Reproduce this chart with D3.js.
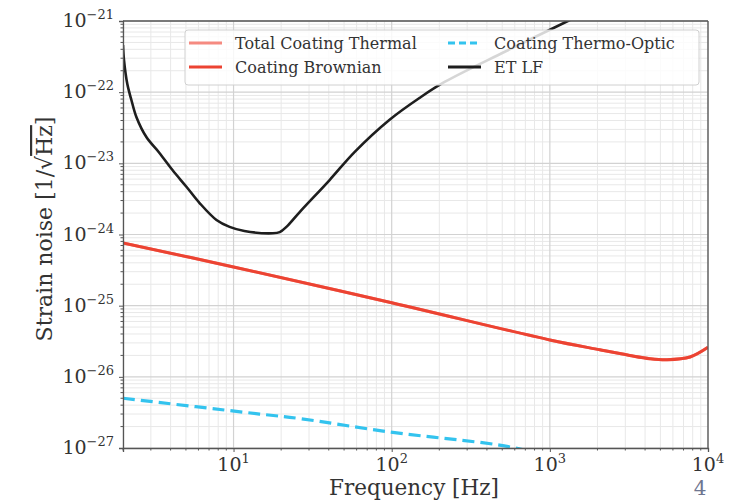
<!DOCTYPE html>
<html>
<head>
  <title>Coating thermal noise</title>
</head>
<style>
  body, html { margin: 0; padding: 0; background: #fff; }
  #svg { display: block; }
  text { font-family: "DejaVu Serif", serif; fill: #333; }
</style>
<body>
  <svg id="svg" width="738" height="501"></svg>
  <script src="https://d3js.org/d3.v7.min.js"></script>
  <script>
    // values (Hz, 1/sqrt(Hz))
    const freqET = [2, 2.03, 2.13, 2.26, 2.43, 2.81, 3.4, 4.11, 5.05, 6.1, 7.8, 9.44, 11.7, 17.7, 19.6, 21.6, 26.2, 40.5, 58.4, 97, 150, 216, 519, 1300, 2070]
    const strainET = [4.6e-22, 2.8e-22, 1.3e-22, 7.76e-23, 4.48e-23, 2.34e-23, 1.4e-23, 8.05e-24, 4.65e-24, 2.77e-24, 1.6e-24, 1.28e-24, 1.12e-24, 1.04e-24, 1.08e-24, 1.28e-24, 2.07e-24, 5.83e-24, 1.45e-23, 4.1e-23, 8.3e-23, 1.39e-22, 3.7e-22, 1.0e-21, 1.66e-21]

    const freqBrown = [2, 10, 100, 1000, 2070, 3200, 4300, 5500, 7700, 10000]
    const strainBrown = [7.6e-25, 3.5e-25, 1.1e-25, 3.3e-26, 2.4e-26, 2.0e-26, 1.8e-26, 1.74e-26, 1.9e-26, 2.6e-26]
    const strainTotal = [7.6e-25, 3.5e-25, 1.1e-25, 3.3e-26, 2.4e-26, 2.0e-26, 1.8e-26, 1.74e-26, 1.9e-26, 2.6e-26]

    const freqTO = [2, 14.6, 26, 97, 480, 700]
    const strainTO = [5.0e-27, 3.0e-27, 2.6e-27, 1.68e-27, 1.1e-27, 9.3e-28]

    const xTicks = [10, 100, 1000, 10000]
    const yTicks = [1e-27, 1e-26, 1e-25, 1e-24, 1e-23, 1e-22, 1e-21]

    const legendNames = ['Total Coating Thermal', 'Coating Brownian', 'Coating Thermo-Optic', 'ET LF']

    const pLeft = 123, pRight = 708, pTop = 21, pBottom = 448

    const svg = d3.select('#svg')

    const xscale = d3.scaleLog().domain([2, 10000]).range([pLeft, pRight])
    const yscale = d3.scaleLog().domain([1e-27, 1e-21]).range([pBottom, pTop])

    // minor tick values
    const xMinor = []
    for (let e = 0; e <= 3; e++) for (let m = 2; m <= 9; m++) {
      const v = m * Math.pow(10, e)
      if (v >= 2 && v < 10000) xMinor.push(v)
    }
    const yMinor = []
    for (let e = -27; e < -21; e++) for (let m = 2; m <= 9; m++) yMinor.push(m * Math.pow(10, e))

    // grid
    const grid = svg.append('g')
    grid.selectAll('.xm').data(xMinor).join('line')
      .attr('x1', d => xscale(d)).attr('x2', d => xscale(d))
      .attr('y1', pTop).attr('y2', pBottom)
      .attr('stroke', '#e8e8e8').attr('stroke-width', 1)
    grid.selectAll('.ym').data(yMinor).join('line')
      .attr('y1', d => yscale(d)).attr('y2', d => yscale(d))
      .attr('x1', pLeft).attr('x2', pRight)
      .attr('stroke', '#e8e8e8').attr('stroke-width', 1)
    grid.selectAll('.xM').data(xTicks).join('line')
      .attr('x1', d => xscale(d)).attr('x2', d => xscale(d))
      .attr('y1', pTop).attr('y2', pBottom)
      .attr('stroke', '#d2d2d2').attr('stroke-width', 1.2)
    grid.selectAll('.yM').data(yTicks).join('line')
      .attr('y1', d => yscale(d)).attr('y2', d => yscale(d))
      .attr('x1', pLeft).attr('x2', pRight)
      .attr('stroke', '#d2d2d2').attr('stroke-width', 1.2)

    // curves
    svg.append('clipPath').attr('id', 'clip')
      .append('rect').attr('x', pLeft).attr('y', pTop)
      .attr('width', pRight - pLeft).attr('height', pBottom - pTop)

    const linegen = d3.line()
      .x(d => xscale(d[0]))
      .y(d => yscale(d[1]))
      .curve(d3.curveCatmullRom.alpha(0.5))

    const plot = svg.append('g').attr('clip-path', 'url(#clip)')
    plot.append('path')
      .attr('d', linegen(d3.zip(freqBrown, strainTotal)))
      .attr('stroke', '#f58a80').attr('stroke-width', 3).attr('fill', 'none')
    plot.append('path')
      .attr('d', linegen(d3.zip(freqBrown, strainBrown)))
      .attr('stroke', '#ec4332').attr('stroke-width', 3).attr('fill', 'none')
    plot.append('path')
      .attr('d', linegen(d3.zip(freqTO, strainTO)))
      .attr('stroke', '#33c3ee').attr('stroke-width', 3.2)
      .attr('stroke-dasharray', '12,6').attr('fill', 'none')
    plot.append('path')
      .attr('d', linegen(d3.zip(freqET, strainET)))
      .attr('stroke', '#1e1e1e').attr('stroke-width', 2.6).attr('fill', 'none')

    // axes
    const xAxis = svg.append('g').attr('transform', `translate(0,${pBottom})`)
      .call(d3.axisBottom(xscale).tickValues(xTicks).tickSize(4).tickFormat(d => ''))
    xAxis.append('g').selectAll('line').data(xMinor).join('line')
      .attr('x1', d => xscale(d)).attr('x2', d => xscale(d))
      .attr('y1', 0).attr('y2', 2.5).attr('stroke', '#555')
    const yAxis = svg.append('g').attr('transform', `translate(${pLeft},0)`)
      .call(d3.axisLeft(yscale).tickValues(yTicks).tickSize(4).tickFormat(d => ''))
    yAxis.append('g').selectAll('line').data(yMinor).join('line')
      .attr('y1', d => yscale(d)).attr('y2', d => yscale(d))
      .attr('x1', 0).attr('x2', -2.5).attr('stroke', '#555')

    svg.selectAll('.domain').attr('stroke', '#555').attr('stroke-width', 1.3)
    svg.selectAll('.tick line').attr('stroke', '#555')

    // frame: top and right spines
    svg.append('line').attr('x1', pLeft).attr('x2', pRight).attr('y1', pTop).attr('y2', pTop)
      .attr('stroke', '#555').attr('stroke-width', 1.3)
    svg.append('line').attr('x1', pRight).attr('x2', pRight).attr('y1', pTop).attr('y2', pBottom)
      .attr('stroke', '#555').attr('stroke-width', 1.3)

    // tick labels with superscripts
    xTicks.forEach(v => {
      const t = svg.append('text')
        .attr('x', xscale(v)).attr('y', pBottom + 23)
        .attr('text-anchor', 'middle').attr('font-size', 19)
      t.append('tspan').text('10')
      t.append('tspan').attr('dy', -8).attr('font-size', 13).text(Math.round(Math.log10(v)))
    })
    yTicks.forEach(v => {
      const t = svg.append('text')
        .attr('x', pLeft - 9).attr('y', yscale(v) + 6)
        .attr('text-anchor', 'end').attr('font-size', 19)
      t.append('tspan').text('10')
      t.append('tspan').attr('dy', -8).attr('font-size', 13).text('\u2212' + Math.round(-Math.log10(v)))
    })

    // axis titles
    svg.append('text')
      .attr('x', 414).attr('y', 495)
      .attr('text-anchor', 'middle').attr('font-size', 21.5)
      .text('Frequency [Hz]')
    const yl = svg.append('text')
      .attr('transform', 'translate(52,229) rotate(-90)')
      .attr('text-anchor', 'middle').attr('font-size', 22)
    yl.append('tspan').text('Strain noise [1/\u221A')
    yl.append('tspan').attr('text-decoration', 'overline').text('Hz')
    yl.append('tspan').text(']')

    // legend
    const lg = svg.append('g')
    lg.append('rect').attr('x', 185).attr('y', 30).attr('width', 514).attr('height', 55)
      .attr('rx', 3).attr('fill', '#fff').attr('fill-opacity', 0.82)
      .attr('stroke', '#d0d0d0')
    const legendStyle = [
      { c: '#f58a80', dash: null, x: 189, y: 43 },
      { c: '#ec4332', dash: null, x: 189, y: 67 },
      { c: '#33c3ee', dash: '7,4', x: 448, y: 43 },
      { c: '#1e1e1e', dash: null, x: 448, y: 67 }
    ]
    legendNames.forEach((name, i) => {
      const s = legendStyle[i]
      lg.append('line').attr('x1', s.x).attr('x2', s.x + 33).attr('y1', s.y).attr('y2', s.y)
        .attr('stroke', s.c).attr('stroke-width', 3)
        .attr('stroke-dasharray', s.dash)
      lg.append('text').attr('x', s.x + 46).attr('y', s.y + 5.5)
        .attr('font-size', 16).text(name)
    })

    // slide page number
    svg.append('text').attr('x', 700).attr('y', 495)
      .attr('text-anchor', 'middle').attr('font-size', 20)
      .style('fill', '#6f7690').text('4')
  </script>
</body>
</html>
